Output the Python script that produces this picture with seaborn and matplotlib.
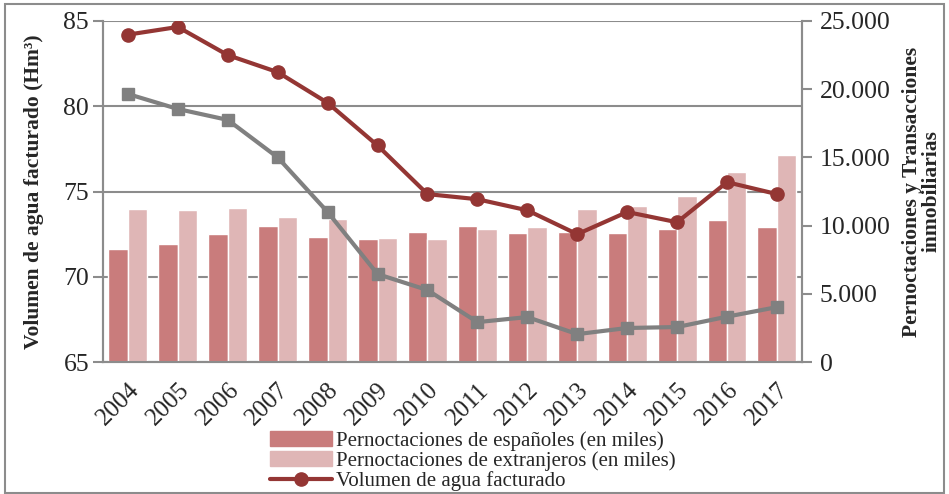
import numpy as np
import pandas as pd
import matplotlib.pyplot as plt
import matplotlib.patches as mpatches
from matplotlib.lines import Line2D
from matplotlib.ticker import FuncFormatter, FixedLocator
import seaborn as sns

# Data
years = [str(y) for y in range(2004, 2018)]
agua = [84.2, 84.65, 83.0, 82.0, 80.2, 77.7, 74.85, 74.55, 73.9, 72.5, 73.8, 73.2, 75.55, 74.85]
transacciones = [19650, 18550, 17750, 15000, 11000, 6450, 5280, 2930, 3300, 2050, 2500, 2570, 3330, 4030]
esp = [8280, 8650, 9380, 9970, 9160, 9020, 9530, 9970, 9460, 9530, 9460, 9750, 10410, 9900]
ext = [11220, 11150, 11290, 10630, 10480, 9090, 9020, 9750, 9900, 11220, 11440, 12170, 13930, 15180]

lbl_esp = 'Pernoctaciones de españoles (en miles)'
lbl_ext = 'Pernoctaciones de extranjeros (en miles)'
lbl_agua = 'Volumen de agua facturado'

c_esp = '#C97C7C'
c_ext = '#DFB6B6'
c_agua = '#943634'
c_trans = '#808080'
c_axis = '#8C8C8C'

sns.set_style('white')
plt.rcParams['font.family'] = ['Liberation Serif', 'DejaVu Serif']

df = pd.DataFrame({'year': years * 2,
                   'value': esp + ext,
                   'serie': [lbl_esp] * len(years) + [lbl_ext] * len(years)})

fig = plt.figure(figsize=(9.49, 4.94), dpi=100)
ax = fig.add_axes([0.1085, 0.267, 0.7365, 0.6905])   # left scale (agua)
axr = ax.twinx()                                      # right scale (bars, transacciones)

pos = np.arange(len(years))

# bars on right scale
sns.barplot(data=df, x='year', y='value', hue='serie', ax=axr,
            palette=[c_esp, c_ext], saturation=1, width=0.78, legend=False)
# gray line on right scale
axr.plot(pos, transacciones, color=c_trans, lw=3, marker='s', ms=9, zorder=5)
# red line uses left scale but drawn on top of bars
axr.plot(pos, agua, color=c_agua, lw=3, marker='o', ms=9.5, zorder=6,
         transform=ax.transData)

ax.set_ylim(65, 85)
axr.set_ylim(0, 25000)
ax.set_xlim(-0.5, len(years) - 0.5)
axr.set_xlim(-0.5, len(years) - 0.5)

ax.set_yticks([65, 70, 75, 80, 85])
axr.set_yticks([0, 5000, 10000, 15000, 20000, 25000])
axr.yaxis.set_major_formatter(FuncFormatter(lambda v, p: f'{int(v):,}'.replace(',', '.')))

ax.yaxis.grid(True, color=c_axis, lw=1.5)
ax.set_axisbelow(True)
axr.grid(False)

# x axis: labels at centers, tick marks at boundaries
for a in (ax, axr):
    a.set_xticks(pos)
    a.xaxis.set_minor_locator(FixedLocator(np.arange(-0.5, len(years), 1)))
axr.set_xticklabels([])
axr.set_xlabel('')
axr.set_ylabel('')
ax.set_xticklabels(years, rotation=45, ha='right', rotation_mode='anchor', fontsize=18)
ax.tick_params(axis='x', which='major', length=0, pad=12)
ax.tick_params(axis='x', which='minor', length=7, color=c_axis, width=1.5, direction='out')
axr.tick_params(axis='x', which='both', length=0)
ax.tick_params(axis='y', length=7, color=c_axis, width=1.5, labelsize=18.5, direction='out', pad=3)
axr.tick_params(axis='y', length=7, color=c_axis, width=1.5, labelsize=18.5, direction='out', pad=6)

for a in (ax, axr):
    a.spines['top'].set_visible(False)
    for s in ('left', 'right', 'bottom'):
        a.spines[s].set_color(c_axis)
        a.spines[s].set_linewidth(1.5)

ax.set_ylabel('Volumen de agua facturado (Hm³)', fontsize=15.5, fontweight='bold', labelpad=14)
axr.set_ylabel('Pernoctaciones y Transacciones\ninmobiliarias', fontsize=15.5,
               fontweight='bold', labelpad=8, linespacing=0.95)

handles = [mpatches.Patch(color=c_esp), mpatches.Patch(color=c_ext),
           Line2D([], [], color=c_agua, lw=3, marker='o', ms=9.5)]
fig.legend(handles, [lbl_esp, lbl_ext, lbl_agua], loc='upper left',
           bbox_to_anchor=(0.284, 0.128), frameon=False, fontsize=15,
           handlelength=3.0, handleheight=0.7, labelspacing=0.02,
           handletextpad=0.2, borderpad=0, borderaxespad=0)

fig.patches.append(mpatches.Rectangle((0.005, 0.002), 0.99, 0.99, transform=fig.transFigure,
                                      fill=False, edgecolor=c_axis, lw=1.5))

fig.savefig('out.png', dpi=100)
